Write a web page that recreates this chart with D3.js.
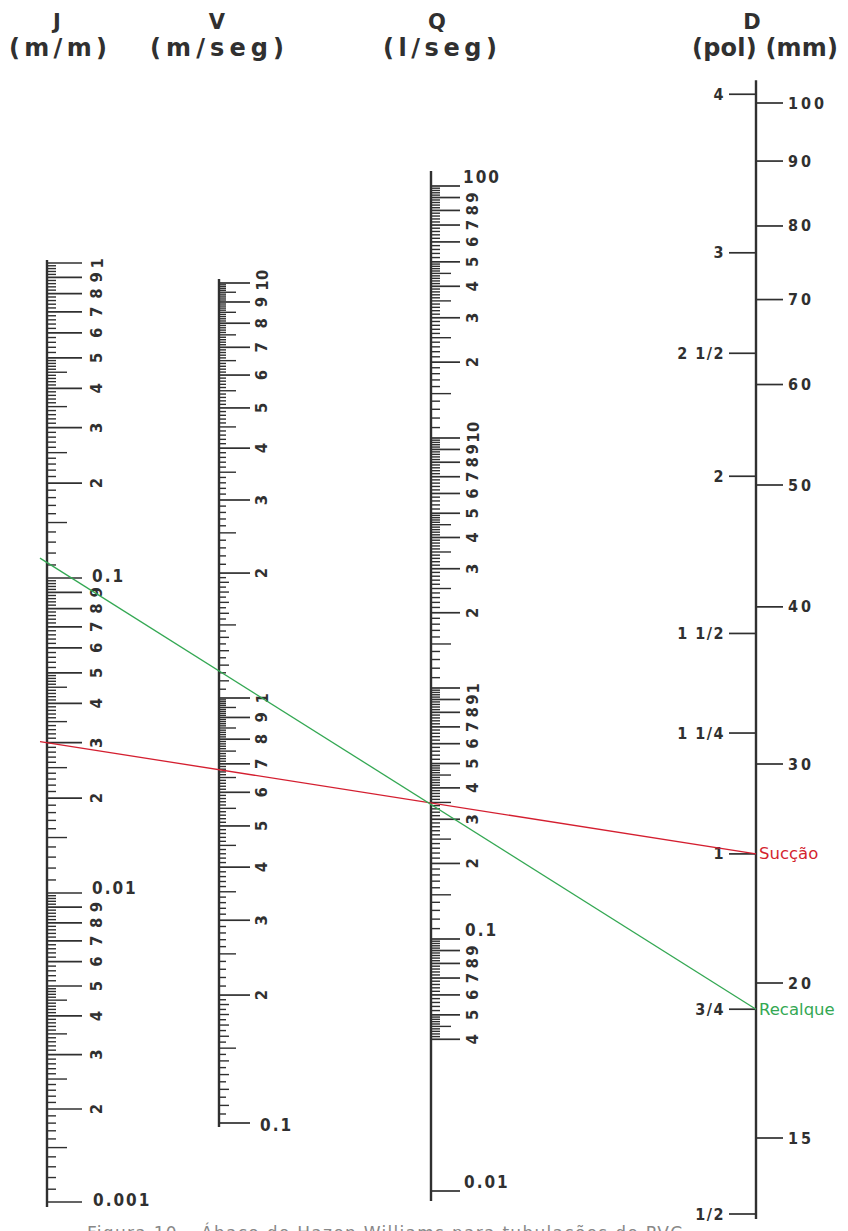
<!DOCTYPE html>
<html>
<head>
<meta charset="utf-8">
<script src="https://cdn.jsdelivr.net/npm/d3@7"></script>
<style>
  html, body { margin: 0; padding: 0; background: #fff; }
  svg { display: block; }
</style>
</head>
<body>
<svg id="chart" width="848" height="1231"></svg>
<script>
// ---------------- data ----------------
// decade anchors of each logarithmic scale
const jDecadeValues = [0.001, 0.01, 0.1, 1];          // J (m/m)
const vDecadeValues = [0.1, 1, 10];                    // V (m/seg)
const qDecadeValues = [0.01, 0.1, 1, 10, 100];         // Q (l/seg)
const dMmKnots      = [12.7, 15, 20, 30, 50, 100];     // D (mm)

// mantissa subdivisions inside one decade: [from, to, step]
const jSubdivisions = [[1, 2, 0.1], [2, 5, 0.1], [5, 10, 0.2]];
const vSubdivisions = [[1, 2, 0.05], [2, 5, 0.1], [5, 10, 0.1]];
const qSubdivisions = [[1, 2, 0.1], [2, 5, 0.1], [5, 10, 0.2]];
const qLowestMantissa = 4;                              // Q scale starts graduating at 0.04

// digit labels written inside each decade
const digitLabels = [2, 3, 4, 5, 6, 7, 8, 9];

// decade labels
const jEndValues = [1, 0.1, 0.01, 0.001];
const jEndLabels = ["1", "0.1", "0.01", "0.001"];
const jEndRotated = [true, false, false, false];
const vEndValues = [10, 1, 0.1];
const vEndLabels = ["10", "1", "0.1"];
const vEndRotated = [true, true, false];
const qEndValues = [100, 10, 1, 0.1, 0.01];
const qEndLabels = ["100", "10", "1", "0.1", "0.01"];
const qEndRotated = [false, true, true, false, false];

// diameter scale
const dInches = [4, 3, 2.5, 2, 1.5, 1.25, 1, 0.75, 0.5];
const dInchLabels = ["4", "3", "2 1/2", "2", "1 1/2", "1 1/4", "1", "3/4", "1/2"];
const dMillimetres = [100, 90, 80, 70, 60, 50, 40, 30, 20, 15];
const MM_PER_INCH = 25.4;

// solution lines (J value on the left scale, pipe diameter in inches)
const routeNames = ["Sucção", "Recalque"];
const routeJ = [0.03, 0.112];
const routeDInch = [1, 0.75];
const routeColors = ["#d41f30", "#34a853"];

// headings
const headSymbols = ["J", "V", "Q", "D"];
const headUnits = ["(m/m)", "(m/seg)", "(l/seg)", "(pol) (mm)"];

const captionText = "Figura 10 – Ábaco de Hazen-Williams para tubulações de PVC";

// ---------------- layout ----------------
const svg = d3.select("#chart");
const ink = "#303030";
const labelFont = "'DejaVu Sans Condensed', 'DejaVu Sans', sans-serif";

const axisX = { J: 47, V: 219, Q: 431, D: 756 };

const yJ = d3.scaleLog().domain(jDecadeValues).range([1202, 893, 578, 263]);
const yV = d3.scaleLog().domain(vDecadeValues).range([1123, 698, 283]);
const yQ = d3.scaleLog().domain(qDecadeValues).range([1191, 939, 688, 438, 186]);
const yD = d3.scaleLog().domain(dMmKnots).range([1214, 1138, 983, 764, 485, 103]);

// build graduations of one decade from its subdivision list
function decadeTicks(base, subs, minMantissa) {
  const out = [];
  subs.forEach(([a, b, s]) => {
    const n = Math.round((b - a) / s);
    for (let i = 0; i < n; i++) {
      const m = +(a + i * s).toFixed(4);
      if (m < minMantissa - 1e-9) continue;
      let level = 0;
      if (Math.abs(m - Math.round(m)) < 1e-9) level = 3;
      else if (Math.abs(m * 2 - Math.round(m * 2)) < 1e-9) level = 2;
      else if (s < 0.1 && Math.abs(m * 10 - Math.round(m * 10)) < 1e-9) level = 1;
      out.push({ v: m * base, level });
    }
  });
  return out;
}

function scaleTicks(decades, subs, lowestMin) {
  let ticks = [];
  decades.slice(0, -1).forEach((base, i) => {
    ticks = ticks.concat(decadeTicks(base, subs, i === 0 ? lowestMin : 1));
  });
  ticks.push({ v: decades[decades.length - 1], level: 3 });
  return ticks;
}

function drawScale(opts) {
  const { x, y, ticks, lens, extTop, extBottom, digitDx, decades, digitStart,
          endValues, endLabels, endRotated, endDx, endDy } = opts;
  const g = svg.append("g");
  const vals = ticks.map(t => t.v);
  const yTop = y(d3.max(vals)) - extTop;
  const yBot = y(d3.min(vals)) + extBottom;

  g.append("line")
    .attr("x1", x).attr("x2", x).attr("y1", yTop).attr("y2", yBot)
    .attr("stroke", ink).attr("stroke-width", 2.4);

  g.selectAll("line.tick").data(ticks).join("line")
    .attr("class", "tick")
    .attr("x1", x).attr("x2", d => x + lens[d.level])
    .attr("y1", d => y(d.v)).attr("y2", d => y(d.v))
    .attr("stroke", ink)
    .attr("stroke-width", d => d.level === 3 ? 1.7 : 1.4);

  // rotated digits 2..9 in every decade
  const digits = [];
  decades.slice(0, -1).forEach((base, i) => {
    digitLabels.forEach(dg => {
      if (i === 0 && dg < digitStart) return;
      digits.push({ v: dg * base, t: String(dg) });
    });
  });
  g.selectAll("text.digit").data(digits).join("text")
    .attr("class", "digit")
    .attr("x", x + digitDx).attr("y", d => y(d.v))
    .attr("transform", d => `rotate(-90, ${x + digitDx}, ${y(d.v)})`)
    .attr("text-anchor", "middle").attr("dominant-baseline", "central")
    .attr("font-family", labelFont).attr("font-stretch", "condensed")
    .attr("font-weight", "bold").attr("font-size", 16.5).attr("fill", ink)
    .text(d => d.t);

  // decade labels
  endValues.forEach((v, i) => {
    const ty = y(v) + endDy[i];
    const t = g.append("text")
      .attr("font-family", labelFont).attr("font-stretch", "condensed")
      .attr("font-weight", "bold").attr("fill", ink)
      .text(endLabels[i]);
    if (endRotated[i]) {
      t.attr("x", x + digitDx).attr("y", ty)
        .attr("transform", `rotate(-90, ${x + digitDx}, ${ty})`)
        .attr("text-anchor", "middle").attr("dominant-baseline", "central")
        .attr("font-size", 16.5).attr("letter-spacing", 0.5);
    } else {
      t.attr("x", x + endDx[i]).attr("y", ty)
        .attr("dominant-baseline", "central")
        .attr("font-size", 17).attr("letter-spacing", 2);
    }
  });
}

// J scale
drawScale({
  x: axisX.J, y: yJ,
  ticks: scaleTicks(jDecadeValues, jSubdivisions, 1),
  lens: [9, 12, 20, 35], extTop: 3, extBottom: 5,
  digitDx: 50, decades: jDecadeValues, digitStart: 2,
  endValues: jEndValues, endLabels: jEndLabels, endRotated: jEndRotated,
  endDx: [0, 45, 45, 46], endDy: [0, -2, -5, -2]
});

// V scale
drawScale({
  x: axisX.V, y: yV,
  ticks: scaleTicks(vDecadeValues, vSubdivisions, 1),
  lens: [7, 10, 17, 31], extTop: 4, extBottom: 4,
  digitDx: 43, decades: vDecadeValues, digitStart: 2,
  endValues: vEndValues, endLabels: vEndLabels, endRotated: vEndRotated,
  endDx: [0, 0, 41], endDy: [-3, 0, 2]
});

// Q scale
drawScale({
  x: axisX.Q, y: yQ,
  ticks: scaleTicks(qDecadeValues, qSubdivisions, qLowestMantissa)
    .concat([{ v: qDecadeValues[0], level: 3 }]),
  lens: [9, 12, 20, 29], extTop: 15, extBottom: 10,
  digitDx: 42, decades: qDecadeValues, digitStart: qLowestMantissa,
  endValues: qEndValues, endLabels: qEndLabels, endRotated: qEndRotated,
  endDx: [32, 0, 0, 34, 33], endDy: [-9, -6, 0, -9, -9]
});

// D scale (inches on the left, millimetres on the right)
(function () {
  const x = axisX.D;
  const g = svg.append("g");
  const mmAll = dInches.map(d => d * MM_PER_INCH).concat(dMillimetres);
  g.append("line")
    .attr("x1", x).attr("x2", x)
    .attr("y1", yD(d3.max(mmAll)) - 14).attr("y2", yD(d3.min(mmAll)) + 5)
    .attr("stroke", ink).attr("stroke-width", 2.4);

  g.selectAll("line.inch").data(dInches).join("line")
    .attr("x1", x - 27).attr("x2", x)
    .attr("y1", d => yD(d * MM_PER_INCH)).attr("y2", d => yD(d * MM_PER_INCH))
    .attr("stroke", ink).attr("stroke-width", 1.7);
  g.selectAll("text.inch").data(dInches).join("text")
    .attr("x", x - 31).attr("y", d => yD(d * MM_PER_INCH))
    .attr("text-anchor", "end").attr("dominant-baseline", "central")
    .attr("font-family", labelFont).attr("font-stretch", "condensed")
    .attr("font-weight", "bold").attr("font-size", 16).attr("letter-spacing", 1.5)
    .attr("fill", ink)
    .text((d, i) => dInchLabels[i]);

  g.selectAll("line.mm").data(dMillimetres).join("line")
    .attr("x1", x).attr("x2", x + 27)
    .attr("y1", d => yD(d)).attr("y2", d => yD(d))
    .attr("stroke", ink).attr("stroke-width", 1.7);
  g.selectAll("text.mm").data(dMillimetres).join("text")
    .attr("x", x + 32).attr("y", d => yD(d))
    .attr("dominant-baseline", "central")
    .attr("font-family", labelFont).attr("font-stretch", "condensed")
    .attr("font-weight", "bold").attr("font-size", 16).attr("letter-spacing", 3)
    .attr("fill", ink)
    .text(d => String(d));
})();

// headings
const headX = [57, 217, 437, 752];
const unitX = [58, 217, 440, 765];
const unitW = [98, 134, 114, 146];
headSymbols.forEach((s, i) => {
  svg.append("text")
    .attr("x", headX[i]).attr("y", 29)
    .attr("text-anchor", "middle")
    .attr("font-family", "'DejaVu Sans', sans-serif").attr("font-weight", "bold")
    .attr("font-size", 21).attr("fill", ink)
    .text(s);
  svg.append("text")
    .attr("x", unitX[i]).attr("y", 56)
    .attr("text-anchor", "middle")
    .attr("font-family", "'DejaVu Sans', sans-serif").attr("font-weight", "bold")
    .attr("font-size", 24).attr("fill", ink)
    .attr("textLength", unitW[i]).attr("lengthAdjust", "spacing")
    .text(headUnits[i]);
});

// solution lines: from the J value to the chosen diameter, through Q
routeNames.forEach((name, i) => {
  const x1 = axisX.J, y1 = yJ(routeJ[i]);
  const x2 = axisX.D, y2 = yD(routeDInch[i] * MM_PER_INCH);
  const lead = 7;
  const slope = (y2 - y1) / (x2 - x1);
  svg.append("line")
    .attr("x1", x1 - lead).attr("y1", y1 - slope * lead)
    .attr("x2", x2).attr("y2", y2)
    .attr("stroke", routeColors[i]).attr("stroke-width", 1.3);
  svg.append("text")
    .attr("x", x2 + 3).attr("y", y2)
    .attr("dominant-baseline", "central")
    .attr("font-family", "'DejaVu Sans', sans-serif")
    .attr("font-size", 16.5).attr("fill", routeColors[i])
    .text(name);
});

// caption line running off the bottom edge
svg.append("text")
  .attr("x", 87).attr("y", 1239)
  .attr("font-family", "'DejaVu Sans', sans-serif")
  .attr("font-size", 17)
  .attr("textLength", 595).attr("lengthAdjust", "spacing")
  .attr("fill", "#888")
  .text(captionText);
</script>
</body>
</html>
